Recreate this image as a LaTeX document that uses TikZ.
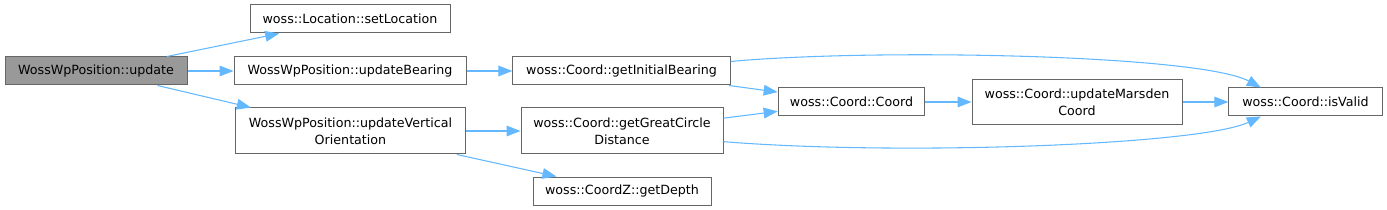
\documentclass[tikz,border=0pt]{standalone}
\usepackage{fontspec}
\setmainfont{DejaVu Sans}
\usetikzlibrary{arrows.meta}
\definecolor{edgeblue}{HTML}{63B8FF}
\definecolor{boxgray}{HTML}{666666}
\definecolor{rootgray}{HTML}{999999}
\tikzset{
  fn/.style={draw=boxgray, line width=0.75pt, fill=white, inner sep=0pt, align=center,
    minimum height=21pt, font=\fontsize{9.5}{12.75}\selectfont},
  root/.style={fn, fill=rootgray},
  call/.style={draw=edgeblue, line width=0.8pt, -{Triangle[length=10.5pt,width=8pt]}}
}
\begin{document}
\begin{tikzpicture}[x=0.75pt, y=-0.75pt]
        \useasboundingbox (0,0) rectangle (1387,210);

        \node[root, minimum width=136.5pt] (update) at (96,71) {WossWpPosition::update};
        \node[fn, minimum width=150pt] (setLocation) at (350,19) {woss::Location::setLocation};
        \node[fn, minimum width=174pt] (updateBearing) at (350,71) {WossWpPosition::updateBearing};
        \node[fn, minimum width=173pt, minimum height=34.5pt] (updateVertical) at (350.5,131) {WossWpPosition::updateVertical\\Orientation};
        \node[fn, minimum width=163pt] (initialBearing) at (621.5,71) {woss::Coord::getInitialBearing};
        \node[fn, minimum width=151.5pt, minimum height=34.5pt] (greatCircle) at (622,131) {woss::Coord::getGreatCircle\\Distance};
        \node[fn, minimum width=133.5pt] (getDepth) at (622,191) {woss::CoordZ::getDepth};
        \node[fn, minimum width=110pt] (coord) at (851.5,102) {woss::Coord::Coord};
        \node[fn, minimum width=157.5pt, minimum height=34pt] (marsden) at (1077,102) {woss::Coord::updateMarsden\\Coord};
        \node[fn, minimum width=115pt] (isValid) at (1305.5,102) {woss::Coord::isValid};

        \draw[call] (update) -- (setLocation);
        \draw[call] (update) -- (updateBearing);
        \draw[call] (update) -- (updateVertical);
        \draw[call] (updateBearing) -- (initialBearing);
        \draw[call] (updateVertical) -- (greatCircle);
        \draw[call] (updateVertical) -- (getDepth);
        \draw[call] (initialBearing) -- (coord);
        \draw[call] (greatCircle) -- (coord);
        \draw[call] (coord) -- (marsden);
        \draw[call] (marsden) -- (isValid);

        % the two long calls to isValid
        \draw[call] (initialBearing.5) .. controls (880,48) and (1200,55) .. (isValid.162);
        \draw[call] (greatCircle.-6) .. controls (900,156) and (1200,145) .. (isValid.198);
    \end{tikzpicture}
\end{document}
